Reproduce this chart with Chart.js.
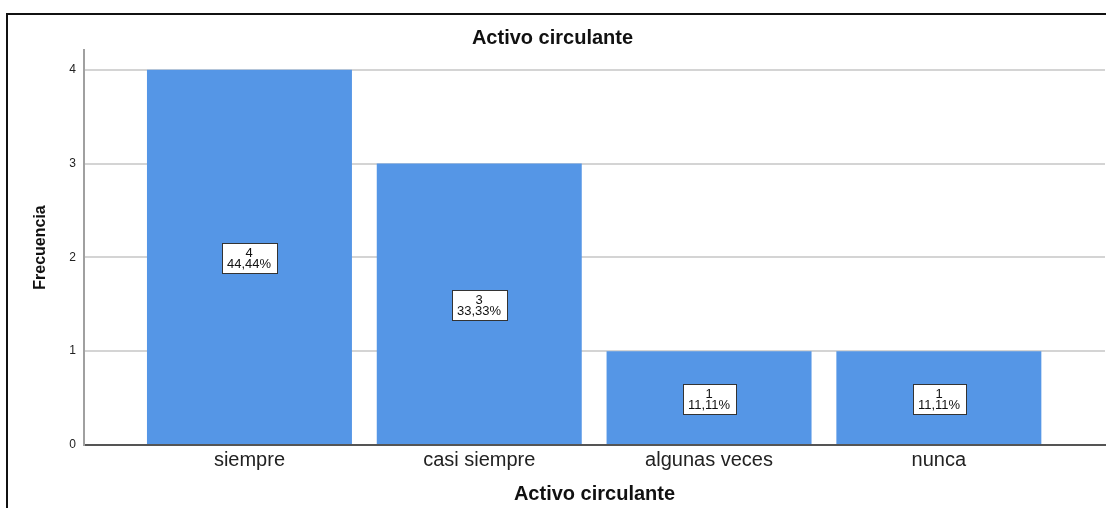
<!DOCTYPE html>
<html><head><meta charset="utf-8">
<script src="https://cdn.jsdelivr.net/npm/chart.js@4"></script>
<style>
html,body{margin:0;padding:0;background:#fff;overflow:hidden;width:1106px;height:508px}
#wrap{position:relative;width:1106px;height:508px;overflow:hidden;background:#fff}
canvas{position:absolute;left:0;top:0}
#frame{position:absolute;left:6px;top:13px;width:1200px;height:600px;border:2px solid #111;pointer-events:none}
</style></head>
<body><div id="wrap"><canvas id="c" width="1123" height="508"></canvas><div id="frame"></div></div>
<script>
const chartTitle = 'Activo circulante';
const xTitle = 'Activo circulante';
const yTitle = 'Frecuencia';
const categories = ['siempre', 'casi siempre', 'algunas veces', 'nunca'];
const frequencies = [4, 3, 1, 1];
const percentLabels = ['44,44%', '33,33%', '11,11%', '11,11%'];
const yTicks = [0, 1, 2, 3, 4];

const FONT = '"Liberation Sans", Arial, sans-serif';

const dataLabels = {
  id: 'dataLabels',
  afterDatasetsDraw(chart) {
    const ctx = chart.ctx;
    const meta = chart.getDatasetMeta(0);
    ctx.save();
    ctx.font = '13px ' + FONT;
    ctx.textAlign = 'center';
    ctx.textBaseline = 'middle';
    meta.data.forEach((bar, i) => {
      const l1 = String(frequencies[i]);
      const l2 = percentLabels[i];
      const w = Math.ceil(Math.max(ctx.measureText(l1).width, ctx.measureText(l2).width)) + 10;
      const h = 30;
      const cx = Math.round(bar.x);
      const cy = Math.round((bar.y + bar.base) / 2) + 1;
      const x0 = Math.round(cx - w / 2) + 0.5, y0 = Math.round(cy - h / 2) + 0.5;
      ctx.fillStyle = '#ffffff';
      ctx.fillRect(x0, y0, w, h);
      ctx.strokeStyle = '#333333';
      ctx.lineWidth = 1;
      ctx.strokeRect(x0, y0, w, h);
      ctx.fillStyle = '#111111';
      ctx.fillText(l1, cx, cy - 5);
      ctx.fillText(l2, cx, cy + 6);
    });
    ctx.restore();
  }
};

new Chart(document.getElementById('c'), {
  type: 'bar',
  data: {
    datasets: [{
      data: categories.map((c, i) => ({ x: i, y: frequencies[i] })),
      backgroundColor: '#5596E6',
      borderWidth: 0,
      categoryPercentage: 1,
      barPercentage: 0.892
    }]
  },
  options: {
    responsive: false,
    animation: false,
    layout: { padding: { left: 0, right: 18, top: 0, bottom: 0 } },
    plugins: {
      legend: { display: false },
      tooltip: { enabled: false },
      title: {
        display: true,
        text: chartTitle,
        color: '#111',
        font: { family: FONT, size: 20, weight: 'bold' },
        padding: { top: 26, bottom: 0 }
      }
    },
    scales: {
      x: {
        type: 'linear',
        offset: false,
        min: -0.72,
        max: 3.723,
        grid: { display: false, drawTicks: false, offset: false },
        border: { display: true, color: '#555', width: 2 },
        ticks: {
          stepSize: 1,
          includeBounds: false,
          autoSkip: false,
          maxRotation: 0,
          padding: 3,
          color: '#222',
          font: { family: FONT, size: 20 },
          callback: (v) => (Number.isInteger(v) && categories[v] !== undefined) ? categories[v] : ''
        },
        title: {
          display: true,
          text: xTitle,
          color: '#111',
          font: { family: FONT, size: 20, weight: 'bold' },
          padding: { top: 0, bottom: 2 }
        },
        afterFit: (s) => { s.height = 63; }
      },
      y: {
        min: 0,
        max: 4.21,
        grid: { color: '#d4d4d4', lineWidth: 2, drawTicks: false },
        border: { display: true, color: '#a0a0a0', width: 2 },
        afterBuildTicks: (s) => { s.ticks = yTicks.map(v => ({ value: v })); },
        ticks: {
          padding: 8,
          color: '#222',
          font: { family: FONT, size: 12 }
        },
        title: {
          display: true,
          text: yTitle,
          color: '#111',
          font: { family: FONT, size: 16, weight: 'bold' },
          padding: { top: 31, bottom: 0 }
        },
        afterFit: (s) => { s.width = 84; }
      }
    }
  },
  plugins: [dataLabels]
});
</script>
</body></html>
